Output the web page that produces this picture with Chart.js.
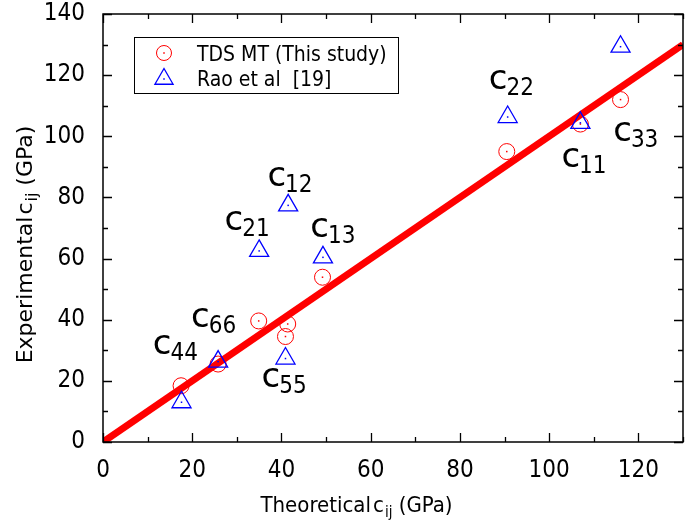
<!DOCTYPE html>
<html><head><meta charset="utf-8">
<script src="https://cdn.jsdelivr.net/npm/chart.js@4/dist/chart.umd.min.js"></script>
<style>html,body{margin:0;padding:0;background:#fff;}canvas{display:block;}</style>
</head><body>
<canvas id="c" width="685" height="525"></canvas>
<script>
// ---- data ----
const xTicks = [0, 20, 40, 60, 80, 100, 120];
const yTicks = [0, 20, 40, 60, 80, 100, 120, 140];
const elements = ['11', '22', '33', '12', '21', '13', '44', '55', '66'];
const tdsTheory = [107, 90.5, 116, 41.4, 34.9, 49.2, 17.5, 40.9, 25.8];
const tdsExp    = [104, 95, 112, 38.6, 39.6, 53.9, 18.4, 34.5, 25.5];
const raoTheory = [107, 90.7, 116, 41.5, 35, 49.3, 17.6, 40.9, 25.8];
const raoExp    = [104.4, 106.3, 129.3, 77.4, 62.5, 60.4, 13, 27.3, 26.3];
const fitX = [0, 130];
const fitY = [0, 130];
const labelX = [103.2, 86.9, 114.8, 37.3, 27.7, 46.9, 11.6, 36.0, 20.2];
const labelY = [89.8, 115.6, 98.4, 83.9, 69.2, 67.2, 28.9, 18.0, 37.7];
const seriesNames = ['TDS MT (This study)', 'Rao et al  [19]'];

const COND = '"DejaVu Sans Condensed", "DejaVu Sans", sans-serif';
const SANS = '"DejaVu Sans", sans-serif';

const pts = (xs, ys) => xs.map((x, i) => ({ x: x, y: ys[i] }));

const decor = {
  id: 'decor',
  afterDatasetsDraw(chart) {
    const ctx = chart.ctx, a = chart.chartArea, xs = chart.scales.x, ys = chart.scales.y;
    ctx.save();
    // centre dots
    chart.data.datasets.forEach((ds, i) => {
      if (ds.type === 'line') return;
      const meta = chart.getDatasetMeta(i);
      ctx.fillStyle = ds.borderColor;
      meta.data.forEach(p => ctx.fillRect(p.x - 0.75, p.y - 0.75, 1.5, 1.5));
    });
    // frame
    ctx.strokeStyle = '#000';
    ctx.lineWidth = 1.5;
    ctx.strokeRect(a.left, a.top, a.right - a.left, a.bottom - a.top);
    // ticks (inward)
    const tick = (v, len, isX) => {
      ctx.beginPath();
      if (isX) {
        const p = Math.round(xs.getPixelForValue(v)) + 0.5;
        ctx.moveTo(p, a.bottom); ctx.lineTo(p, a.bottom - len);
        ctx.moveTo(p, a.top); ctx.lineTo(p, a.top + len);
      } else {
        const p = Math.round(ys.getPixelForValue(v)) + 0.5;
        ctx.moveTo(a.left, p); ctx.lineTo(a.left + len, p);
        ctx.moveTo(a.right, p); ctx.lineTo(a.right - len, p);
      }
      ctx.stroke();
    };
    ctx.lineWidth = 1.3;
    xTicks.forEach((v, i) => { tick(v, 9, true); const n = xTicks[i + 1]; tick(n === undefined ? v + 10 : (v + n) / 2, 5, true); });
    yTicks.forEach((v, i) => { tick(v, 9, false); if (i < yTicks.length - 1) tick((v + yTicks[i + 1]) / 2, 5, false); });
    // element labels
    ctx.fillStyle = '#000';
    ctx.textBaseline = 'alphabetic';
    ctx.textAlign = 'left';
    elements.forEach((e, i) => {
      const px = xs.getPixelForValue(labelX[i]) - 2, py = ys.getPixelForValue(labelY[i]);
      ctx.font = '34px ' + SANS;
      ctx.fillText('c', px, py);
      const w = ctx.measureText('c').width;
      ctx.font = '24px ' + COND;
      ctx.fillText(e, px + w - 1, py + 6);
    });
    // legend
    const lx = 134.5, ly = 37.5;
    ctx.fillStyle = '#fff';
    ctx.fillRect(lx, ly, 264, 56);
    ctx.lineWidth = 1;
    ctx.strokeStyle = '#000';
    ctx.strokeRect(lx, ly, 264, 56);
    const ds0 = chart.data.datasets[0], ds1 = chart.data.datasets[1];
    ctx.strokeStyle = ds0.borderColor; ctx.lineWidth = 1;
    ctx.beginPath(); ctx.arc(164, 53, 7.5, 0, Math.PI * 2); ctx.stroke();
    ctx.fillStyle = ds0.borderColor; ctx.fillRect(163.25, 52.25, 1.5, 1.5);
    ctx.strokeStyle = ds1.borderColor; ctx.lineWidth = 1.3;
    const r = 10.5, cx = 164, cy = 79;
    ctx.beginPath();
    ctx.moveTo(cx, cy - r);
    ctx.lineTo(cx + r * Math.sin(Math.PI * 2 / 3), cy + r / 2);
    ctx.lineTo(cx - r * Math.sin(Math.PI * 2 / 3), cy + r / 2);
    ctx.closePath(); ctx.stroke();
    ctx.fillStyle = ds1.borderColor; ctx.fillRect(cx - 0.75, cy - 0.75, 1.5, 1.5);
    ctx.fillStyle = '#000';
    ctx.font = '21px ' + COND;
    ctx.fillText(seriesNames[0], 197, 61);
    ctx.fillText(seriesNames[1], 197, 85.5);
    // axis titles
    const drawParts = (parts, center, base) => {
      let total = 0;
      parts.forEach(p => { ctx.font = p[1]; total += ctx.measureText(p[0]).width + p[3]; });
      let x = center - total / 2;
      parts.forEach(p => { ctx.font = p[1]; ctx.fillText(p[0], x, base + p[2]); x += ctx.measureText(p[0]).width + p[3]; });
    };
    ctx.fillStyle = '#000';
    const xParts = [['Theoretical', '22px ' + COND, 0, 2], ['c', '22px ' + COND, 0, 1], ['ij', '15px ' + COND, 5, 0], [' (GPa)', '22px ' + COND, 0, 0]];
    drawParts(xParts, 356.5, 512);
    ctx.save();
    ctx.translate(32, 244.5);
    ctx.rotate(-Math.PI / 2);
    const yParts = [['Experimental', '22px ' + SANS, 0, 2], ['c', '22px ' + SANS, 0, 1], ['ij', '16px ' + SANS, 5, 0], [' (GPa)', '22px ' + SANS, 0, 0]];
    drawParts(yParts, 0, 0);
    ctx.restore();
    ctx.restore();
  }
};

new Chart(document.getElementById('c'), {
  type: 'scatter',
  data: {
    datasets: [
      { label: seriesNames[0], data: pts(tdsTheory, tdsExp), pointStyle: 'circle', pointRadius: 8, pointHoverRadius: 8,
        borderColor: '#ff0000', backgroundColor: 'rgba(0,0,0,0)', pointBorderWidth: 1, borderWidth: 1, order: 1 },
      { label: seriesNames[1], data: pts(raoTheory, raoExp), pointStyle: 'triangle', pointRadius: 11, pointHoverRadius: 11,
        borderColor: '#0000ff', backgroundColor: 'rgba(0,0,0,0)', pointBorderWidth: 1.3, borderWidth: 1.3, order: 0 },
      { type: 'line', label: 'fit', data: pts(fitX, fitY), borderColor: '#ff0000', borderWidth: 7, pointRadius: 0,
        fill: false, tension: 0, clip: 0, order: 2 }
    ]
  },
  options: {
    responsive: false, animation: false, devicePixelRatio: 1,
    layout: { autoPadding: false, padding: { top: 14, right: 2, left: 0, bottom: 0 } },
    plugins: { legend: { display: false }, tooltip: { enabled: false } },
    scales: {
      x: {
        type: 'linear', min: 0, max: 130,
        grid: { display: false }, border: { display: false },
        afterBuildTicks: s => { s.ticks = xTicks.map(v => ({ value: v })); },
        afterFit: s => { s.height = 83; s.paddingLeft = 0; s.paddingRight = 0; },
        ticks: { color: '#000', font: { family: COND, size: 24 }, padding: 6, maxRotation: 0 }
      },
      y: {
        type: 'linear', min: 0, max: 140,
        grid: { display: false }, border: { display: false },
        afterBuildTicks: s => { s.ticks = yTicks.map(v => ({ value: v })); },
        afterFit: s => { s.width = 103; s.paddingTop = 0; s.paddingBottom = 0; },
        ticks: { color: '#000', font: { family: COND, size: 24 }, padding: 10 }
      }
    }
  },
  plugins: [decor]
});
</script>
</body></html>
